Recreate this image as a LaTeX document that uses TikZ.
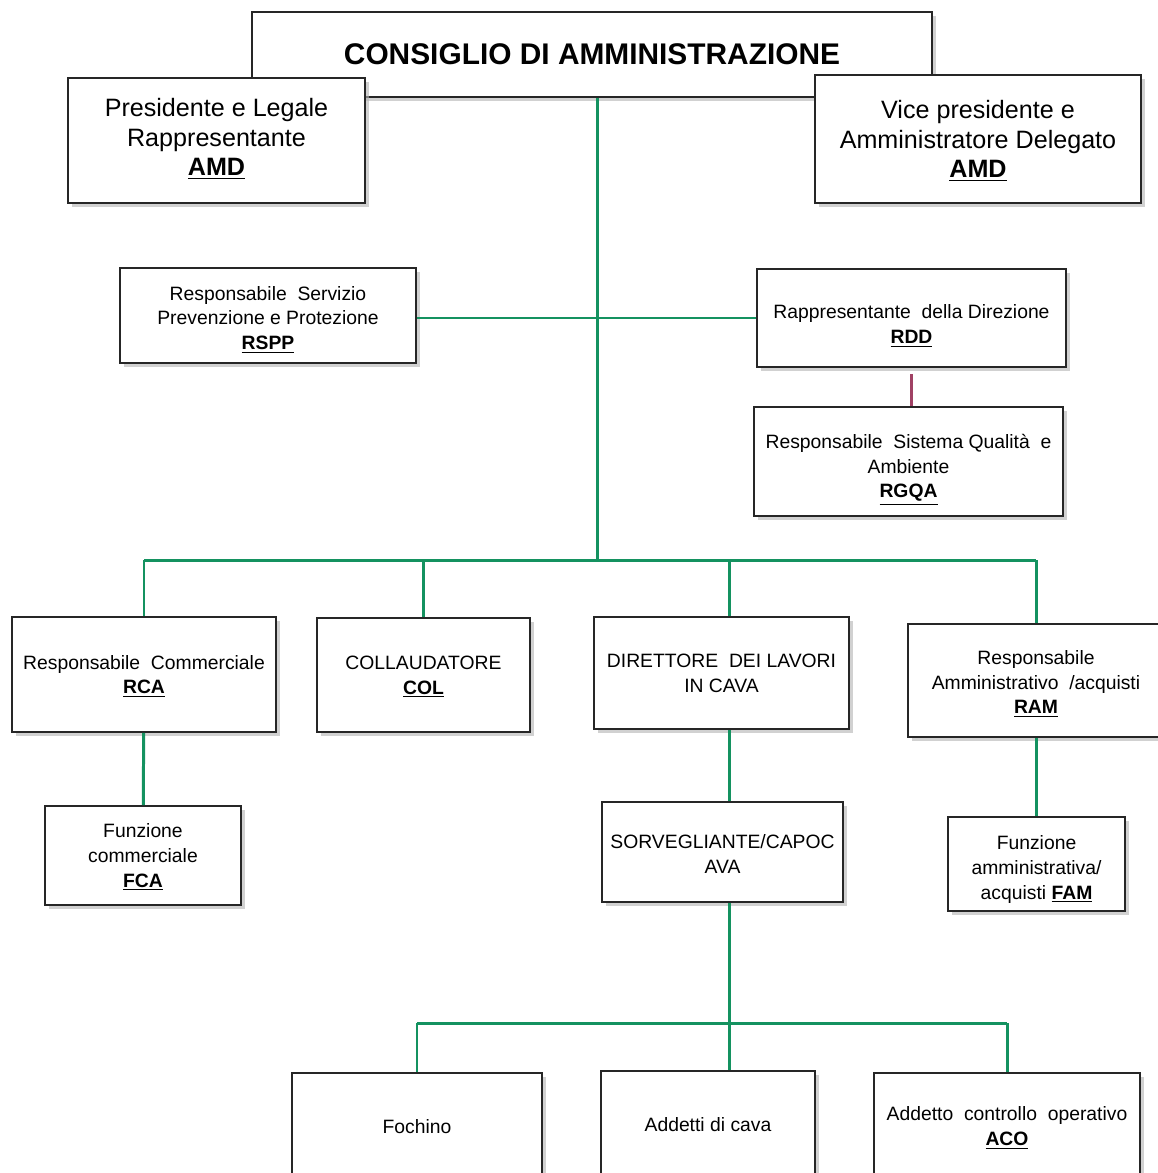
\documentclass[tikz,border=0pt]{standalone}
\usepackage{fontspec}
\setmainfont{Liberation Sans}
\usetikzlibrary{shadows}
\definecolor{orggreen}{RGB}{20,146,96}
\definecolor{orgred}{RGB}{160,65,100}
\tikzset{
  unit/.style 2 args={draw=black!85, line width=1.1pt, fill=white, align=center,
    minimum width=#1*0.02cm, minimum height=#2*0.02cm, inner sep=1pt, text depth=0pt,
    drop shadow={shadow xshift=2.5pt, shadow yshift=-2.5pt, fill=black!30, opacity=0.6}},
  big/.style={font=\fontsize{14.3}{17}\selectfont},
  small/.style={font=\fontsize{11}{14}\selectfont},
  link/.style={orggreen, line width=1.7pt},
}
\newcommand{\code}[1]{\underline{\textbf{#1}}}
\newcommand{\lift}[1]{\rule{0pt}{#1}}
\begin{document}
\begin{tikzpicture}[x=0.02cm, y=-0.02cm]
    \useasboundingbox (0,0) rectangle (1158,1173);
    % Top of the chart
    \node[unit={680}{85}, font=\fontsize{17}{20}\selectfont\bfseries] (cda) at (592,54.5) {CONSIGLIO DI AMMINISTRAZIONE};
    \node[unit={297}{125}, big, text depth=4pt] (pres) at (216.5,140.5) {Presidente e Legale\\Rappresentante\\\code{AMD}};
    \node[unit={326}{128}, big] (vice) at (978,139) {Vice presidente e\\Amministratore Delegato\\\code{AMD}};

    % Staff functions
    \node[unit={296}{95}, small] (rspp) at (268,315.5) {\lift{10.5pt}Responsabile\ \ Servizio\\Prevenzione e Protezione\\\code{RSPP}};
    \node[unit={309}{98}, small] (rdd) at (911.5,318) {\lift{15pt}Rappresentante\ \ della Direzione\\\code{RDD}};
    \node[unit={309}{109}, small] (rgqa) at (908.5,461.5) {\lift{13.5pt}Responsabile\ \ Sistema Qualità\ \ e\\Ambiente\\\code{RGQA}};

    % Line functions
    \node[unit={264}{115}, small] (rca) at (144,674.5) {Responsabile\ \ Commerciale\\\code{RCA}};
    \node[unit={213}{114}, small] (col) at (423.5,675) {COLLAUDATORE\\\code{COL}};
    \node[unit={255}{112}, small] (dir) at (721.5,673) {DIRETTORE\ \ DEI LAVORI\\IN CAVA};
    \node[unit={256}{113}, small] (ram) at (1036,680.5) {\lift{10pt}Responsabile\\Amministrativo\ \ /acquisti\\\code{RAM}};
    \node[unit={196}{99}, small] (fca) at (143,855.5) {Funzione\\commerciale\\\code{FCA}};
    \node[unit={241}{100}, small] (sorv) at (722.5,852) {\lift{10.5pt}SORVEGLIANTE/CAPOC\\AVA};
    \node[unit={177}{94}, small] (fam) at (1036.5,864) {\lift{12pt}Funzione\\amministrativa/\\acquisti \code{FAM}};

    % Quarry workers
    \node[unit={250}{106}, small] (foch) at (417,1126) {Fochino};
    \node[unit={214}{106}, small] (addetti) at (708,1124) {Addetti di cava};
    \node[unit={266}{106}, small] (aco) at (1007,1126) {Addetto\ \ controllo\ \ operativo\\\code{ACO}};

    % Connectors
    \coordinate (bus) at (597,560);
    \coordinate (cava) at (729,1023);
    \draw[link] (cda.south -| bus) -- (bus);
    \draw[link] (rspp.east |- rdd.west) -- (rdd.west);
    \draw[orgred, line width=1.3pt, shorten <=3.5pt] (rdd.south) -- (rdd.south |- rgqa.north);
    \draw[link] (rca.north |- bus) -- (ram.north |- bus);
    \foreach \n in {rca,col,ram}
        \draw[link] (\n.north |- bus) -- (\n.north);
    \draw[link] (dir.north -| cava) -- (cava |- bus);
    \draw[link] (rca) -- (fca);
    \draw[link] (dir.south -| cava) -- (sorv.north -| cava);
    \draw[link] (ram.south) -- (ram.south |- fam.north);
    \draw[link] (sorv.south -| cava) -- (addetti.north -| cava);
    \draw[link] (foch.north |- cava) -- (aco.north |- cava);
    \foreach \n in {foch,aco}
        \draw[link] (\n.north |- cava) -- (\n.north);
\end{tikzpicture}
\end{document}
